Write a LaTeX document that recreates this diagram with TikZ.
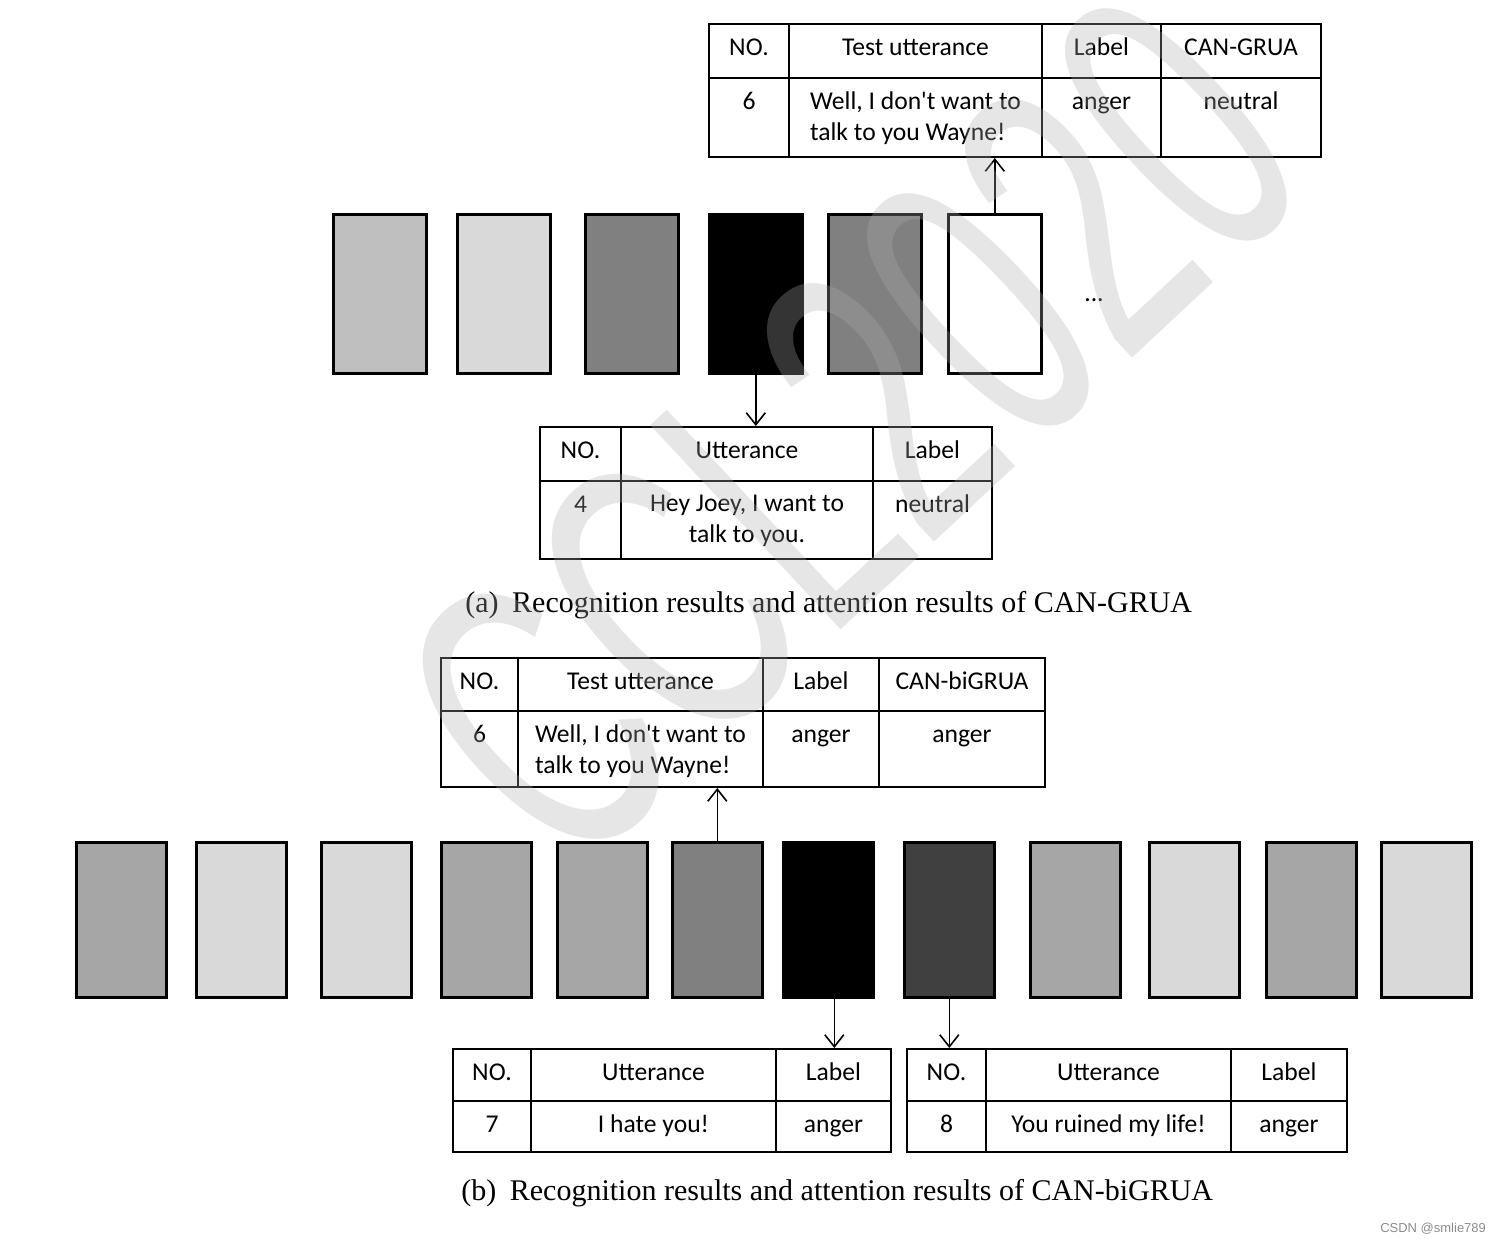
\documentclass[tikz,border=0pt]{standalone}
\usepackage{fontspec}
\setmainfont{Carlito}
\newfontfamily\capfont{Liberation Serif}
\newfontfamily\markfont{Liberation Sans}
\usetikzlibrary{arrows.meta,positioning}
\newcommand{\cellfont}{\fontsize{12.8}{15.5}\selectfont}

\begin{document}
\begin{tikzpicture}[x=0.5pt, y=-0.5pt,
  cell/.style={draw, line width=1pt, anchor=north west, inner sep=0pt},
  txtc/.style={anchor=north, inner sep=0pt, align=center, font=\cellfont, execute at begin node=\strut},
  txtm/.style={txtc, yshift=-2pt},
  txtl/.style={txtm, align=left},
  blockA/.style={draw, line width=1.3pt, anchor=north west, minimum width=46.5pt, minimum height=79.5pt},
  blockB/.style={draw, line width=1.3pt, anchor=north west, minimum width=45pt, minimum height=77.5pt},
  arrow/.style={-{Straight Barb[length=6pt, width=9.5pt]}, line width=0.8pt},
  caption/.style={anchor=base west, inner sep=0pt, font=\capfont\fontsize{15}{18}\selectfont},
  wmark/.style={font=\markfont\fontsize{203}{203}\selectfont, text=black!32, text opacity=0.3, rotate=43, xscale=0.6}
]
\useasboundingbox (0,0) rectangle (1508,1243);

% (a) test utterance table
\foreach \xa/\cw/\hd/\bd/\al [count=\i] in {708/80/NO./6/txtc, 788/253/Test utterance/{Well, I don\textquotesingle t want to\\talk to you Wayne!}/txtl, 1041/119/Label/anger/txtc, 1160/160/CAN-GRUA/neutral/txtc} {
  \node[cell, minimum width=\cw*0.5pt, minimum height=27pt] (A1\i) at (\xa,23) {};
  \node[cell, minimum width=\cw*0.5pt, minimum height=39.5pt] (A2\i) at (\xa,77) {};
  \node[txtc] at ([yshift=-5.4pt]A1\i.north) {\hd};
  \node[\al] at ([yshift=-5.4pt]A2\i.north) {\bd};
}

% (a) attention blocks
\foreach \xa/\g [count=\i] in {332/25, 456/15, 584/50, 708/100, 827/50, 947/0}
  \node[blockA, fill=black!\g] (a\i) at (\xa,213) {};
\node[anchor=base, font=\cellfont] (dots) at (1094,301) {...};

% (a) attended utterance
\foreach \xa/\cw/\hd/\bd/\al [count=\i] in {539/81/NO./4/txtc, 620/252/Utterance/{Hey Joey, I want to\\talk to you.}/txtm, 872/119/Label/neutral/txtc} {
  \node[cell, minimum width=\cw*0.5pt, minimum height=27pt] (B1\i) at (\xa,426) {};
  \node[cell, minimum width=\cw*0.5pt, minimum height=39pt] (B2\i) at (\xa,480) {};
  \node[txtc] at ([yshift=-5.4pt]B1\i.north) {\hd};
  \node[\al] at ([yshift=-5.4pt]B2\i.north) {\bd};
}

\draw[arrow] (a6.north) -- (a6.north |- A22.south);
\draw[arrow] (a4.south) -- (a4.south |- B12.north);

\node[caption] (capA) at (465,612) {(a)\hspace{0.45em}Recognition results and attention results of CAN-GRUA};

% (b) test utterance table
\foreach \xa/\cw/\hd/\bd/\al [count=\i] in {440/77/NO./6/txtc, 517/245/Test utterance/{Well, I don\textquotesingle t want to\\talk to you Wayne!}/txtl, 762/116/Label/anger/txtc, 878/166/CAN-biGRUA/anger/txtc} {
  \node[cell, minimum width=\cw*0.5pt, minimum height=26.5pt] (C1\i) at (\xa,657) {};
  \node[cell, minimum width=\cw*0.5pt, minimum height=38pt] (C2\i) at (\xa,710) {};
  \node[txtc] at ([yshift=-5.4pt]C1\i.north) {\hd};
  \node[\al] at ([yshift=-5.4pt]C2\i.north) {\bd};
}

% (b) attention blocks
\foreach \xa/\g [count=\i] in {75/35, 195/15, 320/15, 440/35, 556/35, 671/50, 782/100, 903/75, 1029/35, 1148/15, 1265/35, 1380/15}
  \node[blockB, fill=black!\g] (b\i) at (\xa,841) {};

% (b) attended utterances
\foreach \xa/\cw/\hd/\bd [count=\i] in {452/78/NO./7, 530/245/Utterance/I hate you!, 775/115/Label/anger} {
  \node[cell, minimum width=\cw*0.5pt, minimum height=26pt] (D1\i) at (\xa,1048) {};
  \node[cell, minimum width=\cw*0.5pt, minimum height=25.5pt] (D2\i) at (\xa,1100) {};
  \node[txtc] at ([yshift=-5.4pt]D1\i.north) {\hd};
  \node[txtc] at ([yshift=-5.4pt]D2\i.north) {\bd};
}
\foreach \xa/\cw/\hd/\bd [count=\i] in {906/79/NO./8, 985/245/Utterance/You ruined my life!, 1230/116/Label/anger} {
  \node[cell, minimum width=\cw*0.5pt, minimum height=26pt] (E1\i) at (\xa,1048) {};
  \node[cell, minimum width=\cw*0.5pt, minimum height=25.5pt] (E2\i) at (\xa,1100) {};
  \node[txtc] at ([yshift=-5.4pt]E1\i.north) {\hd};
  \node[txtc] at ([yshift=-5.4pt]E2\i.north) {\bd};
}

\draw[arrow] (b6.north) -- (b6.north |- C22.south);
\draw[arrow] ([xshift=3pt]b7.south) -- ([xshift=3pt]b7.south |- D13.north);
\draw[arrow] (b8.south) -- (b8.south |- E11.north);

\node[caption] (capB) at (461,1200) {(b)\hspace{0.45em}Recognition results and attention results of CAN-biGRUA};

\node[anchor=base east, font=\markfont\fontsize{6.5}{8}\selectfont, text=black!45] (csdn) at (1493,1232) {CSDN @smlie789};

% watermark
\node[wmark] (ccl) at (850,430) {CCL2020};
\end{tikzpicture}
\end{document}
